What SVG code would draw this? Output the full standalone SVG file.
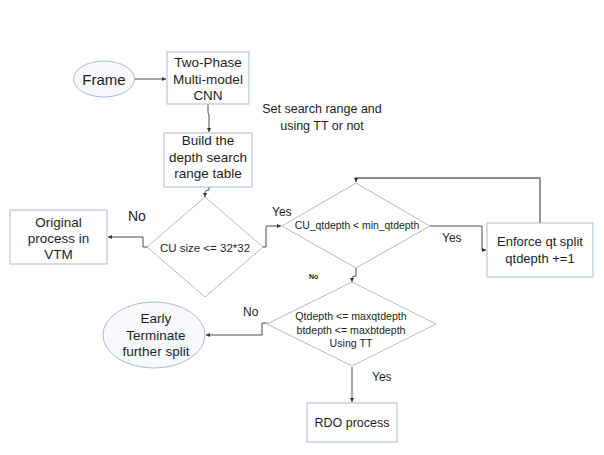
<svg xmlns="http://www.w3.org/2000/svg" width="604" height="455" viewBox="0 0 604 455">
<defs>
<style>
.box{fill:#ffffff;stroke:#a9bcd0;stroke-width:1}
.ell{fill:#f7f9fc;stroke:#a9bcd0;stroke-width:1}
.t{font-family:"Liberation Sans",Arial,sans-serif;fill:#1e1e1e;text-anchor:middle}
.c{fill:none;stroke:#4a4a4a;stroke-width:1}
.lbl{font-family:"Liberation Sans",Arial,sans-serif;fill:#1e1e1e}
</style>
<marker id="ah" viewBox="0 0 4 4" refX="4" refY="2" markerWidth="4" markerHeight="4" orient="auto" markerUnits="userSpaceOnUse">
<path d="M0,0 L4,2 L0,4 z" fill="#333"/>
</marker>
</defs>
<rect width="604" height="455" fill="#ffffff"/>
<g id="connectors">
<path class="c" d="M134,79 H166" marker-end="url(#ah)"/>
<path class="c" d="M208,104 V112 Q208,114 209,114 V132" marker-end="url(#ah)"/>
<path class="c" d="M209,187 V190 Q205,190 205,192 V197" marker-end="url(#ah)"/>
<path class="c" d="M147,247 H143 V237 H108" marker-end="url(#ah)"/>
<path class="c" d="M262,247 H266 V226 H281" marker-end="url(#ah)"/>
<path class="c" d="M430,226 H482 V250 H486" marker-end="url(#ah)"/>
<path d="M540,223 V178 H356 V182" fill="none" stroke="#8a8a8a" stroke-width="1.8" marker-end="url(#ah)"/>
<path class="c" d="M356,268 V276 Q352,276 352,278 V282" marker-end="url(#ah)"/>
<path class="c" d="M267,323 H262 V335 H206" marker-end="url(#ah)"/>
<path class="c" d="M352,367 V402" marker-end="url(#ah)"/>
</g>
<g id="frame">
<ellipse class="ell" cx="104" cy="79" rx="30.5" ry="18"/>
<text class="t" x="104" y="84.5" font-size="15">Frame</text>
</g>
<g id="cnn">
<rect class="box" x="167" y="52" width="82" height="52"/>
<text class="t" x="208" y="67" font-size="13.5">Two-Phase</text>
<text class="t" x="208" y="83.5" font-size="13.5">Multi-model</text>
<text class="t" x="208" y="100" font-size="13.5">CNN</text>
</g>
<g id="note">
<text class="t" x="322" y="113" font-size="12.5">Set search range and</text>
<text class="t" x="322" y="130" font-size="12.5">using TT or not</text>
</g>
<g id="build">
<rect class="box" x="164" y="133" width="88" height="54"/>
<text class="t" x="208" y="145" font-size="13.5">Build the</text>
<text class="t" x="208" y="161.5" font-size="13.5">depth search</text>
<text class="t" x="208" y="178" font-size="13.5">range table</text>
</g>
<g id="original">
<rect class="box" x="10" y="210" width="97" height="54"/>
<text class="t" x="58.5" y="227" font-size="13.5">Original</text>
<text class="t" x="58.5" y="243" font-size="13.5">process in</text>
<text class="t" x="58.5" y="259" font-size="13.5">VTM</text>
</g>
<g id="cusize">
<polygon class="box" points="205,197 263,247 205,297 147,247"/>
<text class="t" x="205" y="251.5" font-size="11.5">CU size &lt;= 32*32</text>
</g>
<g id="qtcheck">
<polygon class="box" points="356,183 430,226 356,268 282,226"/>
<text class="t" x="357" y="229" font-size="10.4">CU_qtdepth &lt; min_qtdepth</text>
</g>
<g id="enforce">
<rect class="box" x="487" y="223" width="106" height="54"/>
<text class="t" x="540" y="246" font-size="13">Enforce qt split</text>
<text class="t" x="540" y="263" font-size="13">qtdepth +=1</text>
</g>
<g id="depthcheck">
<polygon class="box" points="352,282 436,324 352,366 267,324"/>
<text class="t" x="351" y="320" font-size="10.6">Qtdepth &lt;= maxqtdepth</text>
<text class="t" x="351" y="333.5" font-size="10.6">btdepth &lt;= maxbtdepth</text>
<text class="t" x="351" y="347" font-size="10.6">Using TT</text>
</g>
<g id="early">
<ellipse class="ell" cx="154" cy="335" rx="51" ry="33"/>
<text class="t" x="156" y="323" font-size="13.5">Early</text>
<text class="t" x="156" y="339.5" font-size="13.5">Terminate</text>
<text class="t" x="156" y="356" font-size="13.5">further split</text>
</g>
<g id="rdo">
<rect class="box" x="307" y="403" width="90" height="39"/>
<text class="t" x="352" y="427" font-size="12.5">RDO process</text>
</g>
<g id="labels">
<text class="lbl" x="128" y="221" font-size="14">No</text>
<text class="lbl" x="272" y="216" font-size="12">Yes</text>
<text class="lbl" x="442" y="242" font-size="12">Yes</text>
<text class="lbl" x="309" y="279" font-size="7" font-weight="bold">No</text>
<text class="lbl" x="243" y="316" font-size="12">No</text>
<text class="lbl" x="372" y="381" font-size="12">Yes</text>
</g>
</svg>
